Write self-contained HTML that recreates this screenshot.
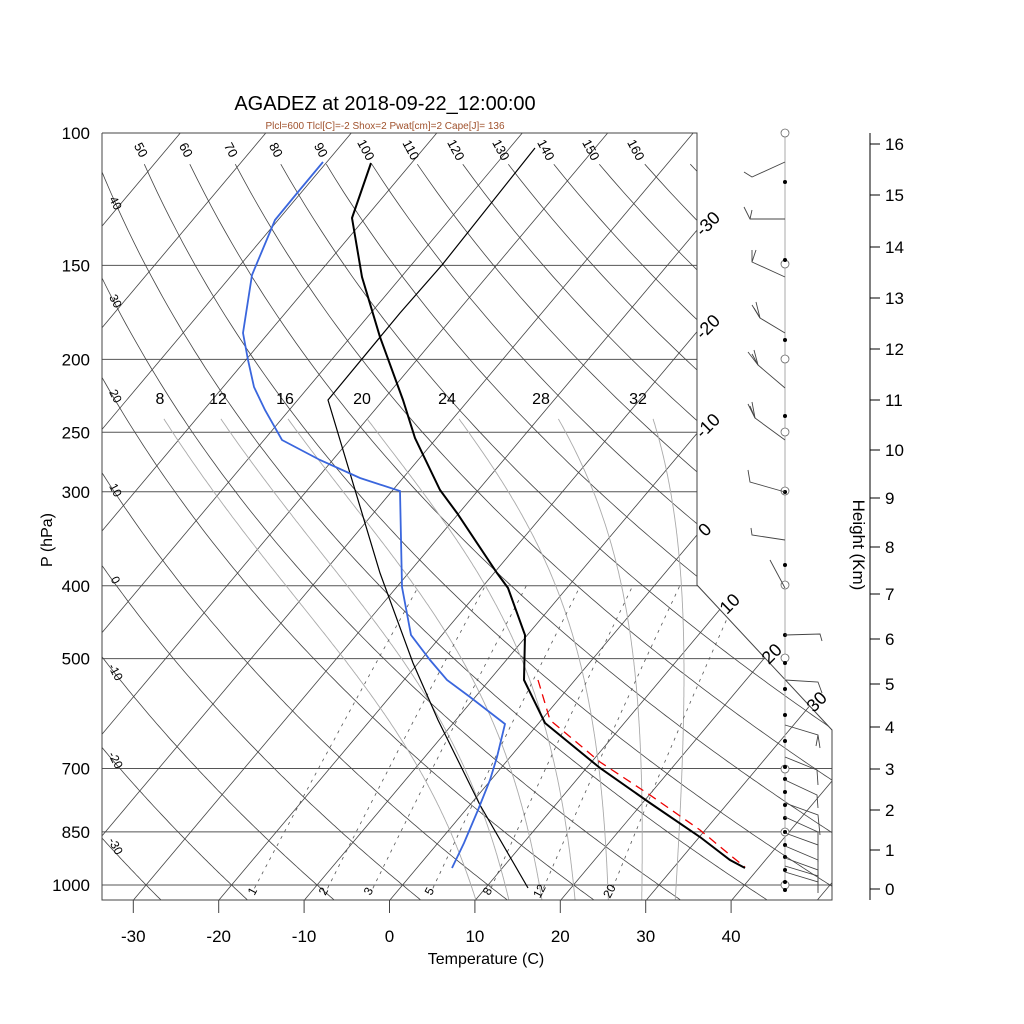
<!DOCTYPE html>
<html><head><meta charset="utf-8">
<style>
html,body{margin:0;padding:0;background:#fff;}
svg{display:block;font-family:"Liberation Sans",Arial,sans-serif;}
</style></head>
<body>
<svg id="s" width="1024" height="1024" viewBox="0 0 1024 1024" xmlns="http://www.w3.org/2000/svg">
<defs>
<clipPath id="cp"><polygon points="102,133 697,133 697,585 832,730 832,900 102,900"/></clipPath>
</defs>
<rect width="1024" height="1024" fill="#fff"/>
<g id="grid" clip-path="url(#cp)"></g>
<g id="labels"></g>
<g id="snd"></g>
</svg>
<script>
(function(){
function Y(p){return 885-17.067*(132.182-44.061*Math.log10(p));}
function X(T,p){const ys=132.182-44.061*Math.log10(p);return 402.6+15.83*(0.54*T+0.90692*ys);}
let g="";
function pl(pts,st){return '<polyline fill="none" points="'+pts.map(a=>a[0].toFixed(1)+','+a[1].toFixed(1)).join(' ')+'" '+st+'/>';}
[100,150,200,250,300,400,500,700,850,1000].forEach(p=>{const y=Y(p);g+=pl([[102,y],[840,y]],'stroke="#555" stroke-width="1"');});
for(let T=-150;T<=60;T+=10){g+=pl([[X(T,1060),Y(1060)],[X(T,100),Y(100)]],'stroke="#444" stroke-width="0.8"');}
for(let th=-30;th<=170;th+=10){const pts=[];
 for(let p=1060;p>=100;p-=5){const T=(th+273.15)*Math.pow(p/1000,0.2857)-273.15;const y=Y(p);if(th>=50&&y<163)break;pts.push([X(T,p),y]);}
 g+=pl(pts,'stroke="#444" stroke-width="0.8"');}
function es(Tc){return 6.112*Math.exp(17.67*Tc/(Tc+243.5));}
function dTdp(Tk,p){const e=es(Tk-273.15);const rs=0.622*e/(p-e);const Rd=287.04,cp=1005.7,L=2.501e6;return (Rd*Tk+L*rs)/(p*(cp+L*L*rs*0.622/(Rd*Tk*Tk)));}
[8,12,16,20,24,28,32].forEach(tw=>{let Tk=tw+273.15;const up=[];
 for(let p=1000;p>=240;p-=2){up.push([X(Tk-273.15,p),Y(p)]);Tk-=dTdp(Tk,p)*2;}
 Tk=tw+273.15;const dn=[];for(let p=1000;p<=1060;p+=2){dn.push([X(Tk-273.15,p),Y(p)]);Tk+=dTdp(Tk,p)*2;}
 g+=pl(dn.reverse().concat(up),'stroke="#aaa" stroke-width="0.9"');});
[1,2,3,5,8,12,20].forEach(w=>{const pts=[];for(let p=1010;p>=400;p-=10){const e=w*p/(622+w);const l=Math.log(e/6.112);const Td=243.5*l/(17.67-l);pts.push([X(Td,p),Y(p)]);}
 g+=pl(pts,'stroke="#555" stroke-width="0.8" stroke-dasharray="3,5"');});
document.getElementById('grid').innerHTML=g;

let L="";
function tx(x,y,s,t,rot,fill,anchor){L+='<text x="'+x+'" y="'+y+'" font-size="'+s+'" fill="'+(fill||'#000')+'" text-anchor="'+(anchor||'middle')+'"'+(rot?' transform="rotate('+rot+' '+x+' '+y+')"':'')+'>'+t+'</text>';}
L+='<polyline fill="none" stroke="#444" stroke-width="1" points="102,133 697,133 697,585 832,730 832,900 102,900 102,133"/>';
tx(385,110,20,'AGADEZ at 2018-09-22_12:00:00');
tx(385,129,10,'Plcl=600 Tlcl[C]=-2 Shox=2 Pwat[cm]=2 Cape[J]= 136',0,'#a0522d');
[[100,'100'],[150,'150'],[200,'200'],[250,'250'],[300,'300'],[400,'400'],[500,'500'],[700,'700'],[850,'850'],[1000,'1000']].forEach(a=>tx(90,Y(a[0])+6,17,a[1],0,'#000','end'));
tx(52,540,16,'P (hPa)',-90);
for(let i=0;i<8;i++){const x=133.3+85.4*i;L+='<line x1="'+x+'" y1="900" x2="'+x+'" y2="913" stroke="#444" stroke-width="1"/>';tx(x,942,17,String(-30+10*i));}
tx(486,964,16,'Temperature (C)');
const tl=[50,60,70,80,90,100,110,120,130,140,150,160];
tl.forEach((v,i)=>tx(137+45*i,152,13,v,62));
[[40,205],[30,303],[20,398],[10,492],[0,582],[-10,674],[-20,762],[-30,848]].forEach(a=>tx(112,a[1],12,a[0],62));
[[8,160],[12,218],[16,285],[20,362],[24,447],[28,541],[32,638]].forEach(a=>tx(a[1],404,16,a[0]));
[[1,256],[2,327],[3,372],[5,433],[8,491],[12,543],[20,613]].forEach(a=>tx(a[1],893,12,a[0],-62));
[['-30',712,222],['-20',712,325],['-10',712,424],['0',709,528],['10',734,602],['20',776,652],['30',821,700]].forEach(a=>tx(a[1],a[2]+6,18,a[0],-45));
L+='<line x1="870" y1="133" x2="870" y2="900" stroke="#000" stroke-width="1"/>';
const hy=[889,850,810,769,727,684,639,594,547,498,450,400,349,298,247,195,144];
hy.forEach((y,i)=>{L+='<line x1="870" y1="'+y+'" x2="880" y2="'+y+'" stroke="#000"/>';tx(885,y+6,17,String(i),0,'#000','start');});
tx(853,545,17,'Height (Km)',90);
document.getElementById('labels').innerHTML=L;

let S="";
S+='<line x1="785" y1="133" x2="785" y2="892" stroke="#aaa" stroke-width="1"/>';
[133,264,359,432,491,585,658,769,832,885].forEach(y=>S+='<circle cx="785" cy="'+y+'" r="4" fill="#fff" stroke="#666" stroke-width="0.8"/>');
[182,260,340,416,492,565,635,663,689,715,741,767,779,792,805,818,832,845,857,870,882,890].forEach(y=>S+='<circle cx="785" cy="'+y+'" r="2" fill="#000"/>');
const bs='fill="none" stroke="#444" stroke-width="0.9"';
const barbs=[
 "785,162 752,177 744,172","785,219 750,219 744,207","785,277 752,262 752,250","785,333 760,318 756,302",
 "785,388 758,365 754,350","785,440 755,418 752,402","785,492 750,482 748,470","785,540 752,535 751,528","785,588 770,560",
 "785,635 820,634 822,641","785,680 818,682 822,693","785,725 818,735 820,748","785,757 817,770 818,785",
 "785,780 817,795 818,808","785,803 818,815 820,835","785,817 818,832 818,850","785,833 818,845 818,862",
 "785,846 818,860 818,878","785,858 818,870 818,885","785,866 818,876 818,890","785,872 818,882 818,893"];
barbs.forEach(b=>S+='<polyline points="'+b+'" '+bs+'/>');
["750,219 752,210","752,262 756,250","760,318 752,305","760,318 754,308","758,365 748,352","758,365 752,354","755,418 748,404","755,418 750,406","818,735 816,746"].forEach(b=>S+='<polyline points="'+b+'" '+bs+'/>');
S+=pl([[535,148],[442,265],[400,313],[328,400],[380,573],[413,663],[438,720],[480,805],[528,888]],'stroke="#000" stroke-width="1.2"');
S+='<polyline fill="none" stroke="#e00" stroke-width="1.3" stroke-dasharray="9,6" points="538,680 550,720 600,762 650,795 700,830 730,855 745,867"/>';
S+=pl([[371,163],[352,218],[362,277],[380,337],[403,400],[415,438],[440,490],[457,513],[497,573],[508,588],[525,635],[524,680],[545,723],[600,768],[650,803],[700,837],[730,860],[745,868]],'stroke="#000" stroke-width="2"');
S+=pl([[323,162],[298,192],[275,220],[252,275],[243,333],[248,360],[254,387],[265,410],[282,440],[320,460],[360,478],[400,491],[402,587],[411,635],[430,660],[447,680],[470,697],[505,724],[497,757],[490,780],[478,810],[464,843],[452,868]],'stroke="#3a66dd" stroke-width="1.8"');
document.getElementById('snd').innerHTML=S;
})();
</script>
</body></html>
